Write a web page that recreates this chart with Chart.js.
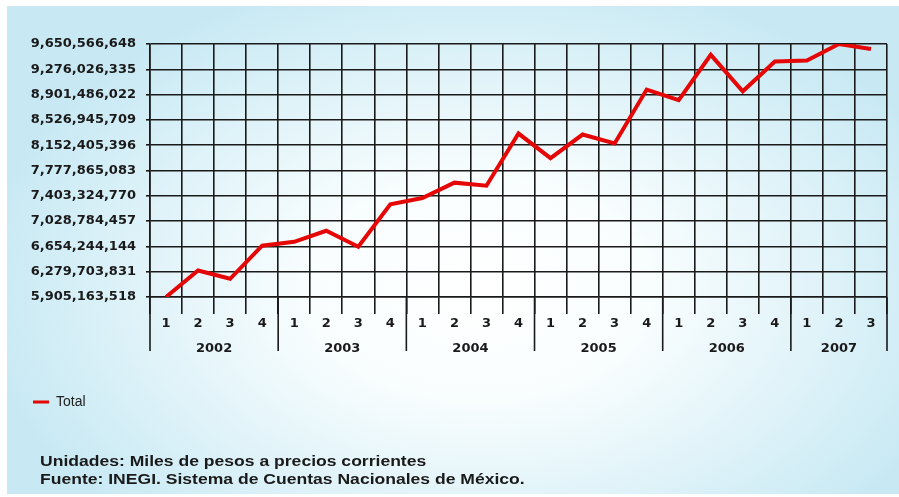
<!DOCTYPE html>
<html>
<head>
<meta charset="utf-8">
<script src="https://cdn.jsdelivr.net/npm/chart.js@4.4.1/dist/chart.umd.min.js"></script>
<style>
  body { margin: 0; }
  #wrap { position: relative; width: 899px; height: 497px; background: #fff; overflow: hidden; }
  #bg {
    position: absolute; left: 7px; top: 6px; right: 0; bottom: 3px;
    background: radial-gradient(ellipse 56% 66% at 53% 58%, #ffffff 0%, #f8fdfe 35%, #c8e9f4 100%);
  }
  #chart { position: absolute; left: 0; top: 0; }
  #notes {
    position: absolute; left: 40px; top: 452px;
    font: bold 15px "Liberation Sans", Arial, sans-serif; line-height: 17.5px; color: #1a1a1a;
    transform: scaleX(1.17); transform-origin: left top; white-space: nowrap;
  }
</style>
</head>
<body>
<div id="wrap">
  <div id="bg"></div>
  <canvas id="chart" width="899" height="497"></canvas>
  <div id="notes">
    <div>Unidades: Miles de pesos a precios corrientes</div>
    <div>Fuente: INEGI. Sistema de Cuentas Nacionales de México.</div>
  </div>
</div>
<script>
// trimestres 2002 T1 - 2007 T3
const quarters = ["1", "2", "3", "4", "1", "2", "3", "4", "1", "2", "3", "4",
                  "1", "2", "3", "4", "1", "2", "3", "4", "1", "2", "3"]
const years = ["2002", "2003", "2004", "2005", "2006", "2007"]
const quartersPerYear = [4, 4, 4, 4, 4, 3]

// miles de pesos
const total = [5905163518, 6298000000, 6175000000, 6665000000,
               6722000000, 6886000000, 6650000000, 7276000000,
               7370000000, 7598000000, 7553000000, 8325000000,
               7961000000, 8310000000, 8179000000, 8976000000,
               8819000000, 9490000000, 8950000000, 9392000000,
               9407000000, 9650566648, 9576000000]

const yTicks = [5905163518, 6279703831, 6654244144, 7028784457, 7403324770,
                7777865083, 8152405396, 8526945709, 8901486022, 9276026335,
                9650566648]

const ink = "#1a1a1a"
const axisFont = { family: "DejaVu Sans", weight: "bold", size: 13 }

// year row under the quarter labels
const yearBands = {
    id: "yearBands",
    afterDraw(chart) {
        const { ctx, chartArea } = chart
        const x = chart.scales.x
        const half = (x.getPixelForValue(1) - x.getPixelForValue(0)) / 2
        let start = 0
        ctx.save()
        ctx.strokeStyle = ink
        ctx.lineWidth = 1.6
        ctx.fillStyle = ink
        ctx.font = "bold 13px 'DejaVu Sans'"
        ctx.textAlign = "center"
        ctx.textBaseline = "middle"
        years.forEach((yr, i) => {
            const n = quartersPerYear[i]
            const x0 = x.getPixelForValue(start) - half
            const x1 = x.getPixelForValue(start + n - 1) + half
            ctx.beginPath()
            ctx.moveTo(x0, chartArea.bottom)
            ctx.lineTo(x0, chartArea.bottom + 54)
            if (i === years.length - 1) {
                ctx.moveTo(x1, chartArea.bottom)
                ctx.lineTo(x1, chartArea.bottom + 54)
            }
            ctx.stroke()
            ctx.fillText(yr, (x0 + x1) / 2, chartArea.bottom + 52)
            start += n
        })
        ctx.restore()
    }
}

const context = document.getElementById("chart").getContext("2d")
new Chart(context, {
    type: "line",
    data: {
        labels: quarters,
        datasets: [{
            label: "Total",
            data: total,
            borderColor: "#e50606",
            backgroundColor: "#e50606",
            borderWidth: 4,
            pointRadius: 0,
            tension: 0
        }]
    },
    options: {
        responsive: false,
        animation: false,
        layout: { padding: { left: 23, right: 12, top: 44, bottom: 78 } },
        scales: {
            x: {
                offset: true,
                grid: { offset: true, color: ink, lineWidth: 1.6, tickLength: 17 },
                border: { color: ink, width: 1.6 },
                ticks: { color: ink, font: axisFont, padding: 2, maxRotation: 0, autoSkip: false },
                afterFit: s => { s.height = 88 }
            },
            y: {
                min: yTicks[0],
                max: yTicks[yTicks.length - 1],
                afterBuildTicks: s => { s.ticks = yTicks.map(v => ({ value: v })) },
                grid: { color: ink, lineWidth: 1.6, tickLength: 4 },
                border: { color: ink, width: 1.6 },
                ticks: {
                    color: ink,
                    font: axisFont,
                    padding: 10,
                    callback: v => Math.round(v).toLocaleString("en-US")
                },
                afterFit: s => { s.width = 127 }
            }
        },
        plugins: {
            legend: {
                position: "bottom",
                align: "start",
                labels: {
                    boxWidth: 16,
                    boxHeight: 3,
                    padding: 10,
                    color: "#222",
                    font: { family: "Liberation Sans", size: 14 },
                    generateLabels: chart => Chart.defaults.plugins.legend.labels
                        .generateLabels(chart).map(l => ({ ...l, lineWidth: 0 }))
                }
            },
            tooltip: { enabled: false }
        }
    },
    plugins: [yearBands]
})
</script>
</body>
</html>
